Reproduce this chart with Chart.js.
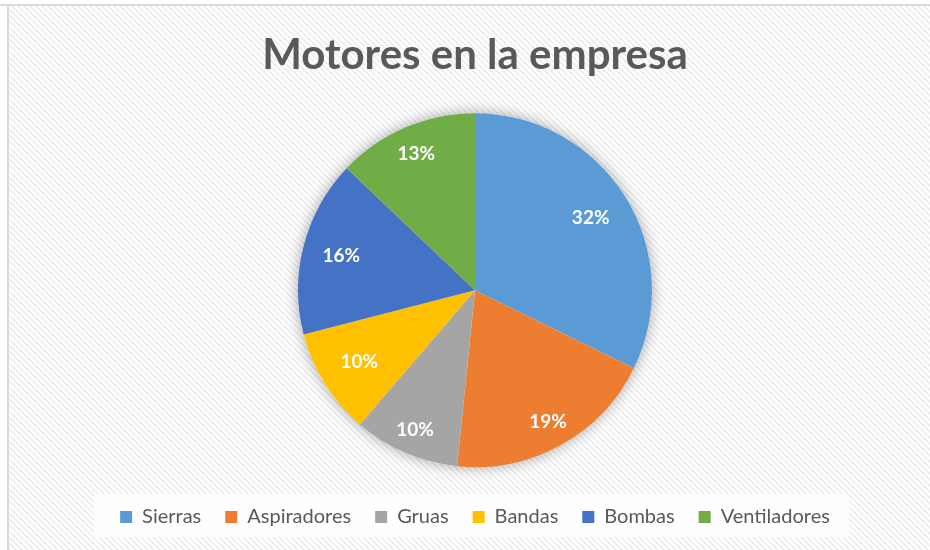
<!DOCTYPE html>
<html>
<head>
<meta charset="utf-8">
<script src="https://cdn.jsdelivr.net/npm/chart.js@4.4.1/dist/chart.umd.min.js"></script>
<style>
  body { margin: 0; background: #ffffff; }
  #wrap { width: 930px; height: 550px; }
</style>
</head>
<body>
<div id="wrap"><canvas id="chart" width="930" height="550"></canvas></div>
<script>
const chart_title = "Motores en la empresa"
const categories = ["Sierras", "Aspiradores", "Gruas", "Bandas", "Bombas", "Ventiladores"]
const motor_counts = [10, 6, 3, 3, 5, 4]
const slice_colors = ["#5B9BD5", "#ED7D31", "#A5A5A5", "#FFC000", "#4472C4", "#70AD47"]
// how far out (fraction of radius) each percentage label sits
const label_depth = [0.77, 0.85, 0.86, 0.77, 0.78, 0.84]

function make_hatch() {
    var c = document.createElement("canvas")
    c.width = 6
    c.height = 6
    var g = c.getContext("2d")
    g.fillStyle = "#ffffff"
    g.fillRect(0, 0, 6, 6)
    g.strokeStyle = "#ececec"
    g.lineWidth = 1.6
    g.beginPath()
    g.moveTo(-1, -1); g.lineTo(7, 7)
    g.moveTo(-4, 2); g.lineTo(4, 10)
    g.moveTo(2, -4); g.lineTo(10, 4)
    g.stroke()
    return g.createPattern(c, "repeat")
}

// background, frame, legend backdrop
const backdrop = {
    id: "backdrop",
    beforeDraw(chart) {
        const ctx = chart.ctx
        ctx.save()
        ctx.fillStyle = "#ffffff"
        ctx.fillRect(0, 0, chart.width, chart.height)
        ctx.fillStyle = make_hatch()
        ctx.fillRect(9, 6, chart.width - 9, chart.height - 6)
        ctx.fillStyle = "#d9d9d9"
        ctx.fillRect(0, 4, chart.width, 2)
        ctx.fillRect(7, 4, 2, chart.height - 4)
        const boxes = chart.legend.legendHitBoxes
        if (boxes && boxes.length) {
            const first = boxes[0], last = boxes[boxes.length - 1]
            ctx.fillStyle = "rgba(255,255,255,0.85)"
            ctx.fillRect(first.left - 26, 494, last.left + last.width - first.left + 45, 43)
        }
        ctx.restore()
    },
    beforeDatasetsDraw(chart) {
        const arc = chart.getDatasetMeta(0).data[0]
        if (!arc) return
        const ctx = chart.ctx
        ctx.save()
        ctx.shadowColor = "rgba(0,0,0,0.35)"
        ctx.shadowBlur = 14
        ctx.fillStyle = "#ffffff"
        ctx.beginPath()
        ctx.arc(arc.x, arc.y, arc.outerRadius, 0, Math.PI * 2)
        ctx.fill()
        ctx.restore()
    }
}

// percentage labels inside the slices
const pct_labels = {
    id: "pct_labels",
    afterDatasetsDraw(chart) {
        const ctx = chart.ctx
        const data = chart.data.datasets[0].data
        const total = data.reduce((a, b) => a + b, 0)
        ctx.save()
        ctx.fillStyle = "#ffffff"
        ctx.font = "bold 19px Lato"
        ctx.textAlign = "center"
        ctx.textBaseline = "middle"
        chart.getDatasetMeta(0).data.forEach(function (arc, i) {
            const p = arc.getProps(["x", "y", "startAngle", "endAngle", "outerRadius"], true)
            const mid = (p.startAngle + p.endAngle) / 2
            const r = p.outerRadius * label_depth[i]
            ctx.fillText(Math.round(data[i] / total * 100) + "%", p.x + Math.cos(mid) * r, p.y + Math.sin(mid) * r)
        })
        ctx.restore()
    }
}

new Chart(document.getElementById("chart"), {
    type: "pie",
    data: {
        labels: categories,
        datasets: [{
            data: motor_counts,
            backgroundColor: slice_colors,
            borderWidth: 0,
            radius: 177
        }]
    },
    options: {
        responsive: false,
        animation: false,
        events: [],
        layout: { padding: { left: 20, right: 0, top: 0, bottom: 13 } },
        plugins: {
            title: {
                display: true,
                text: chart_title,
                color: "#595959",
                font: { family: "Lato", size: 42, weight: "bold" },
                padding: { top: 30, bottom: 17 }
            },
            legend: {
                position: "bottom",
                labels: {
                    color: "#595959",
                    font: { family: "Lato", size: 20 },
                    boxWidth: 12,
                    boxHeight: 12,
                    padding: 24
                }
            },
            tooltip: { enabled: false }
        }
    },
    plugins: [backdrop, pct_labels]
})
</script>
</body>
</html>
